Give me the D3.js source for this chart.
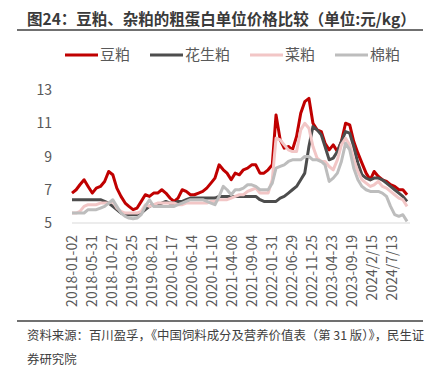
<!DOCTYPE html>
<html lang="zh">
<head>
<meta charset="utf-8">
<title>豆粕、杂粕的粗蛋白单位价格比较</title>
<script src="https://cdn.jsdelivr.net/npm/d3@7"></script>
<style>
  body { margin: 0; background: #fff; }
  svg { display: block; font-family: "Noto Sans CJK SC", "Noto Sans", sans-serif; }
  .title { font-size: 15.5px; font-weight: bold; fill: #3a3a3a; }
  .tick-label { font-size: 14px; fill: #595959; }
  .legend-text { font-size: 15px; fill: #595959; }
  .source { font-size: 12.4px; fill: #404040; }
</style>
</head>
<body>
<div id="chart"></div>
<script>
// 月度数据（2018-01 起）
const seriesNames = ["豆粕", "花生粕", "菜粕", "棉粕"];
const colors = ["#c00000", "#4d4d4d", "#f2c6c6", "#bdbdbd"];

const soyMeal = [6.8,7.0,7.3,7.6,7.2,6.8,7.1,7.2,7.5,8.1,7.9,7.1,
  6.6,6.2,6.0,5.8,5.9,6.3,6.7,6.6,6.8,6.8,7.0,6.8,
  6.5,6.3,6.5,7.0,6.9,6.7,6.7,6.8,6.9,7.1,7.4,7.7,
  8.5,8.2,8.0,7.6,8.0,7.9,8.2,8.3,8.5,8.5,8.0,8.0,
  8.2,8.5,11.5,10.0,9.5,9.6,9.4,10.2,11.6,12.3,12.5,11.0,
  10.6,10.5,9.8,9.4,9.7,9.3,9.9,11.0,10.9,9.9,9.2,8.6,
  8.0,7.6,8.1,7.8,7.6,7.5,7.3,7.2,7.0,7.0,6.7];
const peanutMeal = [6.4,6.4,6.4,6.4,6.4,6.4,6.4,6.4,6.3,6.2,6.0,5.8,
  5.6,5.5,5.5,5.5,5.5,5.6,5.8,6.0,6.1,6.1,6.2,6.3,
  6.2,6.2,6.3,6.3,6.4,6.5,6.5,6.5,6.5,6.5,6.5,6.5,
  6.6,6.6,6.6,6.6,6.6,6.6,6.6,6.6,6.6,6.6,6.4,6.3,
  6.3,6.3,6.3,6.5,6.6,6.8,7.0,7.2,7.6,8.0,9.6,10.8,
  10.6,10.3,9.6,8.8,8.9,9.3,9.9,10.5,10.4,9.6,8.6,7.9,
  7.7,7.6,7.7,7.7,7.6,7.4,7.2,7.0,6.8,6.6,6.3];
const rapeMeal = [5.6,5.6,5.7,6.0,6.1,6.1,6.1,6.2,6.2,6.2,6.3,5.9,
  5.7,5.6,5.6,5.6,5.6,5.7,6.1,6.0,6.1,6.2,6.2,6.2,
  6.2,6.2,6.1,6.1,6.2,6.2,6.2,6.2,6.2,6.2,6.3,6.3,
  6.4,6.4,6.4,6.5,6.6,6.7,6.7,6.9,7.0,7.1,6.8,6.8,
  6.8,7.6,10.1,10.0,9.7,9.4,9.3,9.3,10.6,11.0,10.7,9.6,
  8.9,8.7,8.7,8.4,8.2,8.8,9.7,10.1,9.7,8.8,8.1,7.6,
  7.4,7.2,7.3,7.5,7.2,7.1,6.9,6.7,6.5,6.4,6.0];
const cottonMeal = [5.6,5.6,5.6,5.6,5.8,5.8,5.8,5.9,6.0,6.2,6.4,6.0,
  5.6,5.4,5.3,5.25,5.3,5.5,6.0,6.4,6.0,6.0,6.0,6.0,
  6.0,6.0,6.1,6.2,6.3,6.4,6.4,6.4,6.4,6.3,6.2,6.1,
  6.6,7.2,7.0,6.7,7.0,7.0,7.1,7.3,7.3,7.2,7.0,7.0,
  7.0,7.4,8.3,8.4,8.5,8.7,8.8,8.8,8.8,9.0,9.0,8.8,
  8.8,8.7,8.5,7.5,7.7,8.0,8.7,9.8,9.4,8.3,7.6,7.2,
  7.0,6.9,6.9,6.9,6.8,6.6,6.0,5.5,5.4,5.5,5.1];

const tickLabels = ["2018-01-02","2018-05-31","2018-10-27","2019-03-25","2019-08-21",
  "2020-01-17","2020-06-14","2020-11-10","2021-04-08","2021-09-04","2022-01-31",
  "2022-06-29","2022-11-25","2023-04-23","2023-09-19","2024/2/15","2024/7/13"];
const yTicks = [5, 7, 9, 11, 13];

const width = 438, height = 368;
const margin = { left: 72, right: 28, top: 90, bottom: 145 };

const parse = s => new Date(s.replace(/\//g, "-").replace(/-(\d)(?=-|$)/g, "-0$1") + "T00:00:00");
const start = parse(tickLabels[0]);
const dates = soyMeal.map((_, i) => d3.timeMonth.offset(start, i));
const allSeries = [soyMeal, peanutMeal, rapeMeal, cottonMeal];

const x = d3.scaleTime()
  .domain([start, new Date("2024-11-24T00:00:00")])
  .range([margin.left, width - margin.right]);
const y = d3.scaleLinear().domain([5, 13]).range([height - margin.bottom, margin.top]);

const svg = d3.select("#chart").append("svg").attr("width", width).attr("height", height);

// 标题
svg.append("text").attr("class", "title").attr("x", 27).attr("y", 25)
  .text("图24：豆粕、杂粕的粗蛋白单位价格比较（单位:元/kg）");
svg.append("line").attr("x1", 17).attr("x2", 423).attr("y1", 30).attr("y2", 30)
  .attr("stroke", "#404040").attr("stroke-width", 1.5);

// 图例
const legendX = [65, 150, 250, 335];
const legend = svg.append("g");
seriesNames.forEach((name, i) => {
  legend.append("line").attr("x1", legendX[i]).attr("x2", legendX[i] + 33)
    .attr("y1", 55).attr("y2", 55).attr("stroke", colors[i]).attr("stroke-width", 3);
  legend.append("text").attr("class", "legend-text").attr("x", legendX[i] + 35).attr("y", 60).text(name);
});

// 坐标轴
svg.append("line").attr("x1", margin.left).attr("x2", width - margin.right)
  .attr("y1", y(5)).attr("y2", y(5)).attr("stroke", "#d9d9d9").attr("stroke-width", 1);

svg.append("g").selectAll("text").data(yTicks).join("text")
  .attr("class", "tick-label").attr("x", 52).attr("y", d => y(d)).attr("dy", "0.36em")
  .attr("text-anchor", "end").text(d => d);

svg.append("g").selectAll("text").data(tickLabels).join("text")
  .attr("class", "tick-label")
  .attr("transform", d => `translate(${x(parse(d))},${y(5) + 12}) rotate(-90)`)
  .attr("text-anchor", "end").attr("dy", "0.36em").text(d => d);

// 折线
const line = d3.line().x((d, i) => x(dates[i])).y(d => y(d)).curve(d3.curveLinear);
svg.append("g").selectAll("path").data(allSeries).join("path")
  .attr("d", d => line(d)).attr("fill", "none")
  .attr("stroke", (d, i) => colors[i]).attr("stroke-width", 3)
  .attr("stroke-linejoin", "round");

// 资料来源
svg.append("line").attr("x1", 17).attr("x2", 423).attr("y1", 321).attr("y2", 321)
  .attr("stroke", "#404040").attr("stroke-width", 1.5);
svg.append("text").attr("class", "source").attr("x", 27).attr("y", 340)
  .text("资料来源：百川盈孚，《中国饲料成分及营养价值表（第 31 版）》，民生证");
svg.append("text").attr("class", "source").attr("x", 27).attr("y", 364).text("券研究院");
</script>
</body>
</html>
